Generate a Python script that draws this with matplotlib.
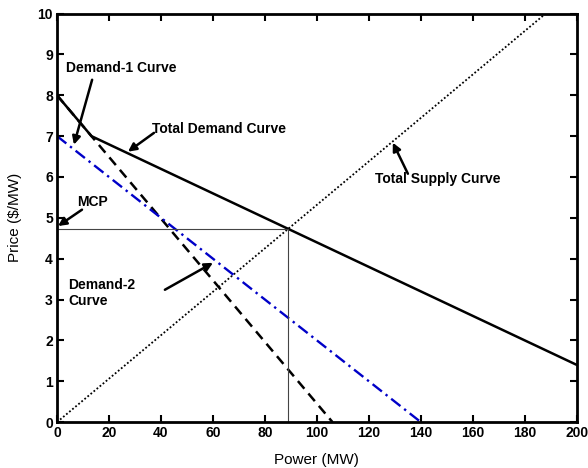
import matplotlib
matplotlib.use('Agg')
import matplotlib.pyplot as plt

# curve end points (Power MW, Price $/MW)
demand1_x = [0, 106]
demand1_y = [8, 0]
demand2_x = [0, 140]
demand2_y = [7, 0]
total_demand_x = [0, 13.25, 200]
total_demand_y = [8, 7, 1.4]
supply_x = [0, 188]
supply_y = [0, 10]
mcp_x = 88.7
mcp_y = 4.72

x_ticks = list(range(0, 201, 20))
y_ticks = list(range(0, 11))

plt.rcParams['font.family'] = ['Liberation Sans', 'DejaVu Sans']

fig = plt.figure(figsize=(5.88, 4.68), dpi=100)
ax = fig.add_axes([0.097, 0.098, 0.884, 0.873])

ax.plot(supply_x, supply_y, color='k', ls=(0, (1, 1.2)), lw=1.3)
ax.plot(demand1_x, demand1_y, color='k', ls=(0, (4, 2.5)), lw=1.8)
ax.plot(demand2_x, demand2_y, color='#0000c8', ls=(0, (5, 2, 1, 2)), lw=1.7)
ax.plot(total_demand_x, total_demand_y, color='k', lw=1.8)
ax.plot([0, mcp_x], [mcp_y, mcp_y], color='#444444', lw=0.8)
ax.plot([mcp_x, mcp_x], [0, mcp_y], color='#444444', lw=0.8)

ax.set_xlim(0, 200)
ax.set_ylim(0, 10)
ax.set_xticks(x_ticks)
ax.set_yticks(y_ticks)
ax.tick_params(direction='in', top=True, right=True, length=5, width=1.5,
               labelsize=10, pad=3)
for lab in ax.get_xticklabels() + ax.get_yticklabels():
    lab.set_fontweight('bold')
for sp in ax.spines.values():
    sp.set_linewidth(2)

ax.set_xlabel('Power (MW)', fontsize=11, labelpad=9)
ax.set_ylabel('Price (\\$/MW)', fontsize=11, labelpad=11)

arrow = dict(arrowstyle='-|>', color='k', lw=1.8, mutation_scale=12,
             shrinkA=0, shrinkB=0)
txt = dict(fontsize=10, fontweight='bold', va='center', ha='left')

ax.text(3.5, 8.68, 'Demand-1 Curve', **txt)
ax.annotate('', xy=(6.5, 6.79), xytext=(13.5, 8.38), arrowprops=arrow)

ax.text(36.5, 7.18, 'Total Demand Curve', **txt)
ax.annotate('', xy=(27.3, 6.62), xytext=(37.3, 7.08), arrowprops=arrow)

ax.text(7.7, 5.39, 'MCP', **txt)
ax.annotate('', xy=(0.4, 4.8), xytext=(9.6, 5.2), arrowprops=arrow)

ax.text(4.2, 3.16, 'Demand-2\nCurve', linespacing=1.15, **txt)
ax.annotate('', xy=(60, 3.9), xytext=(41.5, 3.24), arrowprops=arrow)

ax.text(122.3, 5.96, 'Total Supply Curve', **txt)
ax.annotate('', xy=(129.2, 6.84), xytext=(135, 6.08), arrowprops=arrow)

fig.savefig('out.png', dpi=100)
